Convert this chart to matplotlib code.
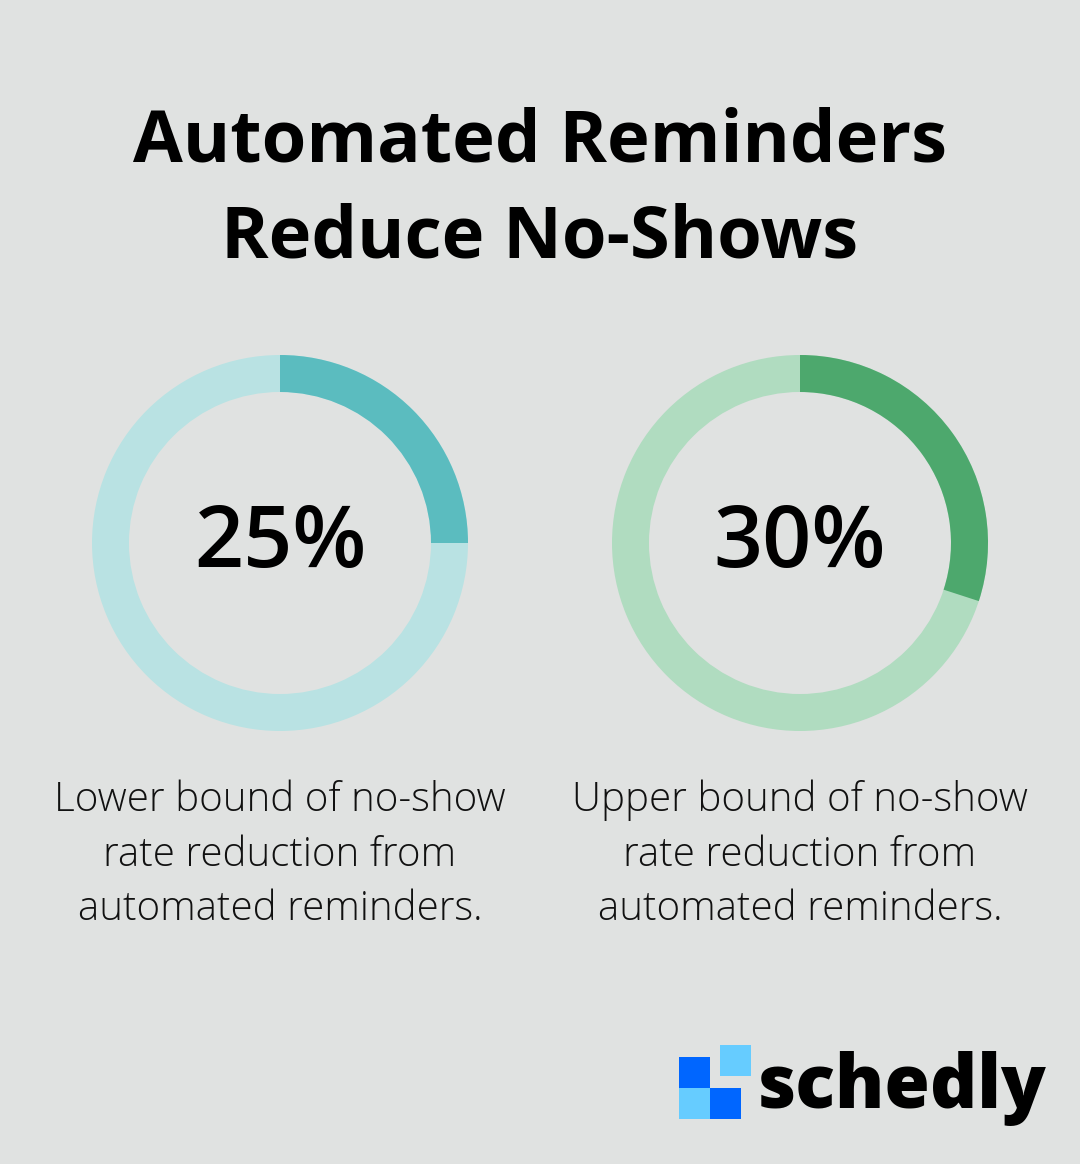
import matplotlib
matplotlib.use("Agg")
import matplotlib.pyplot as plt
from matplotlib.patches import Wedge, Rectangle

# Chart data
title_lines = ["Automated Reminders", "Reduce No-Shows"]
percent_values = [25, 30]
descriptions = [
    "Lower bound of no-show\nrate reduction from\nautomated reminders.",
    "Upper bound of no-show\nrate reduction from\nautomated reminders.",
]
dark_colors = ["#5bbcbf", "#4da86d"]
light_colors = ["#b9e2e3", "#b0dcc0"]
brand = "schedly"

W, H = 1080, 1164
bg = "#e0e2e1"

fig = plt.figure(figsize=(W / 100, H / 100), dpi=100)
fig.patch.set_facecolor(bg)
ax = fig.add_axes([0, 0, 1, 1])
ax.set_xlim(0, W)
ax.set_ylim(H, 0)
ax.axis("off")

# Title
ax.text(540, 142, title_lines[0], ha="center", va="center",
        fontsize=52, fontweight="bold", family="Open Sans", color="black")
ax.text(540, 239, title_lines[1], ha="center", va="center",
        fontsize=52, fontweight="bold", family="Open Sans", color="black")

# Donuts (y axis is flipped, so angles run clockwise on screen)
centers = [280, 800]
cy = 543
r_out = 188
width = 37
for cx, val, dc, lc, desc in zip(centers, percent_values, dark_colors,
                                 light_colors, descriptions):
    start = -90
    end = -90 + val / 100 * 360
    ax.add_patch(Wedge((cx, cy), r_out, 0, 360, width=width,
                       facecolor=lc, edgecolor="none"))
    ax.add_patch(Wedge((cx, cy), r_out, start, end, width=width,
                       facecolor=dc, edgecolor="none"))
    ax.text(cx, cy + 2, f"{val}%", ha="center", va="center",
            fontsize=62, fontweight="semibold", family="Open Sans",
            color="black")
    ax.text(cx, 855, desc, ha="center", va="center", fontsize=29,
            fontweight="light", family="Open Sans", color="#111111",
            linespacing=1.43)

# Logo
ax.add_patch(Rectangle((679, 1057), 31, 31, facecolor="#0066ff"))
ax.add_patch(Rectangle((720, 1045), 31, 31, facecolor="#66ccff"))
ax.add_patch(Rectangle((679, 1088), 31, 31, facecolor="#66ccff"))
ax.add_patch(Rectangle((710, 1088), 31, 31, facecolor="#0066ff"))
ax.text(757, 1088, brand, ha="left", va="center", fontsize=53,
        fontweight="heavy", family="Open Sans", color="black")

fig.savefig("out.png", dpi=100, facecolor=bg)
